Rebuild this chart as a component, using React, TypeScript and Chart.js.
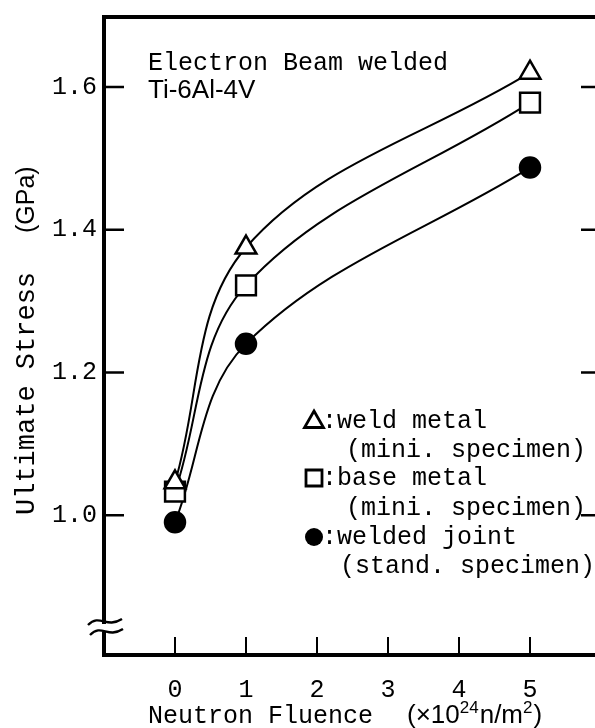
import React, { useEffect, useRef } from "react";
import { Chart, registerables } from "chart.js";

Chart.register(...registerables);

// ---- data ----
const fluence = [0, 1, 5];
const weldMetal = [1.046, 1.375, 1.62];
const baseMetal = [1.033, 1.322, 1.578];
const weldedJoint = [0.99, 1.24, 1.487];

const xTicks = [0, 1, 2, 3, 4, 5];
const xTickLabels = ["0", "1", "2", "3", "4", "5"];
const yTicks = [1.0, 1.2, 1.4, 1.6];
const yTickLabels = ["1.0", "1.2", "1.4", "1.6"];

const noteLine1 = "Electron Beam welded";
const noteLine2 = "Ti-6Al-4V";
const legendMain = [":weld metal", ":base metal", ":welded joint"];
const legendSub = ["(mini. specimen)", "(mini. specimen)", "(stand. specimen)"];
const legendShapes = ["triangle", "rect", "circle"];
const yTitleMain = "Ultimate Stress";
const yTitleUnit = "(GPa)";
const xTitleMain = "Neutron Fluence";
const xTitleUnitParts = ["(×10", "24", "n/m", "2", ")"];

const MONO = "'Liberation Mono', 'DejaVu Sans Mono', monospace";
const SANS = "'Liberation Sans', Arial, sans-serif";

function toPoints(ys: number[]) {
  return fluence.map((x, i) => ({ x, y: ys[i] }));
}

function drawMarker(ctx: CanvasRenderingContext2D, shape: string, x: number, y: number, r: number) {
  ctx.save();
  ctx.lineWidth = 2.8;
  ctx.strokeStyle = "#000";
  ctx.fillStyle = "#fff";
  ctx.beginPath();
  if (shape === "triangle") {
    ctx.moveTo(x, y - r);
    ctx.lineTo(x + r * 0.95, y + r * 0.65);
    ctx.lineTo(x - r * 0.95, y + r * 0.65);
    ctx.closePath();
    ctx.fill();
    ctx.stroke();
  } else if (shape === "rect") {
    ctx.rect(x - r * 0.8, y - r * 0.8, r * 1.6, r * 1.6);
    ctx.fill();
    ctx.stroke();
  } else {
    ctx.fillStyle = "#000";
    ctx.arc(x, y, r * 0.9, 0, Math.PI * 2);
    ctx.fill();
  }
  ctx.restore();
}

const decorPlugin = {
  id: "decor",
  afterDraw(chart: any) {
    const ctx: CanvasRenderingContext2D = chart.ctx;
    const { left, top, right, bottom } = chart.chartArea;
    const xs = chart.scales.x;
    const ys = chart.scales.y;
    ctx.save();
    ctx.strokeStyle = "#000";
    ctx.fillStyle = "#000";

    // frame
    ctx.lineWidth = 4;
    ctx.strokeRect(left, top, right - left, bottom - top);

    // inward ticks
    ctx.lineWidth = 2.5;
    yTicks.forEach((v) => {
      const py = ys.getPixelForValue(v);
      ctx.beginPath();
      ctx.moveTo(left, py);
      ctx.lineTo(left + 20, py);
      ctx.moveTo(right, py);
      ctx.lineTo(right - 20, py);
      ctx.stroke();
    });
    ctx.lineWidth = 2;
    xTicks.forEach((v) => {
      const px = xs.getPixelForValue(v);
      ctx.beginPath();
      ctx.moveTo(px, bottom);
      ctx.lineTo(px, bottom - 18);
      ctx.stroke();
    });

    // axis break
    ctx.fillStyle = "#fff";
    ctx.fillRect(left - 4, bottom - 31, 8, 8);
    ctx.lineWidth = 2.4;
    const wave = (x0: number, y0: number, x1: number, y1: number) => {
      ctx.beginPath();
      ctx.moveTo(x0, y0);
      ctx.bezierCurveTo(x0 + 12, y0 - 12, x1 - 16, y1 + 10, x1, y1);
      ctx.stroke();
    };
    wave(left - 16, bottom - 30, left + 18, bottom - 36);
    wave(left - 14, bottom - 20, left + 19, bottom - 26);

    // note text
    ctx.fillStyle = "#000";
    ctx.textBaseline = "middle";
    ctx.textAlign = "left";
    ctx.font = `25px ${MONO}`;
    ctx.fillText(noteLine1, 148, 63);
    ctx.font = `26px ${SANS}`;
    ctx.fillText(noteLine2, 148, 91);

    // legend
    const legY = [421, 478, 537];
    const subY = [450, 508, 566];
    legendMain.forEach((txt, i) => {
      drawMarker(ctx, legendShapes[i], 314, legY[i], 10);
      ctx.fillStyle = "#000";
      ctx.font = `25px ${MONO}`;
      ctx.fillText(txt, 322, legY[i]);
      ctx.fillText(legendSub[i], i === 2 ? 340 : 346, subY[i]);
    });

    // y title
    ctx.save();
    ctx.translate(27, 0);
    ctx.rotate(-Math.PI / 2);
    ctx.textBaseline = "middle";
    ctx.textAlign = "left";
    ctx.font = `27px ${MONO}`;
    ctx.fillText(yTitleMain, -515, 0);
    ctx.font = `25px ${SANS}`;
    ctx.fillText(yTitleUnit, -233, 0);
    ctx.restore();

    // x title
    ctx.textBaseline = "middle";
    ctx.font = `25px ${MONO}`;
    ctx.fillText(xTitleMain, 148, 716);
    let cx = 407;
    xTitleUnitParts.forEach((p, i) => {
      const sup = i === 1 || i === 3;
      ctx.font = sup ? `17px ${SANS}` : `26px ${SANS}`;
      ctx.fillText(p, cx, sup ? 708 : 716);
      cx += ctx.measureText(p).width + (sup ? 1 : 0);
    });

    ctx.restore();
  },
};

export default function App() {
  const ref = useRef<HTMLCanvasElement | null>(null);

  useEffect(() => {
    if (!ref.current) return;
    const mk = (label: string, ys: number[], style: string, fill: string, radius: number) => ({
      label,
      data: toPoints(ys),
      showLine: true,
      borderColor: "#000",
      borderWidth: 2,
      tension: 0.36,
      cubicInterpolationMode: "default" as const,
      pointStyle: style,
      pointRadius: radius,
      pointBorderWidth: 2.5,
      pointBorderColor: "#000",
      pointBackgroundColor: fill,
      fill: false,
    });
    const chart = new Chart(ref.current, {
      type: "scatter",
      data: {
        datasets: [
          mk("weld metal (mini. specimen)", weldMetal, "triangle", "#fff", 12),
          mk("base metal (mini. specimen)", baseMetal, "rect", "#fff", 14),
          mk("welded joint (stand. specimen)", weldedJoint, "circle", "#000", 10),
        ],
      },
      options: {
        responsive: false,
        animation: false,
        events: [],
        layout: { autoPadding: false, padding: { left: 0, top: 17, right: 1, bottom: 0 } },
        plugins: { legend: { display: false }, tooltip: { enabled: false } },
        scales: {
          x: {
            type: "linear",
            min: -1,
            max: 6,
            grid: { display: false, drawTicks: false },
            border: { display: false },
            afterBuildTicks: (s: any) => {
              s.ticks = xTicks.map((v) => ({ value: v }));
            },
            afterFit: (s: any) => {
              s.height = 73;
              s.paddingLeft = 0;
              s.paddingRight = 0;
            },
            ticks: {
              color: "#000",
              padding: 20,
              font: { family: MONO, size: 25 },
              maxRotation: 0,
              callback: (v: any) => xTickLabels[xTicks.indexOf(Number(v))] ?? "",
            },
          },
          y: {
            type: "linear",
            min: 0.804,
            max: 1.698,
            grid: { display: false, drawTicks: false },
            border: { display: false },
            afterBuildTicks: (s: any) => {
              s.ticks = yTicks.map((v) => ({ value: v }));
            },
            afterFit: (s: any) => {
              s.width = 104;
              s.paddingTop = 0;
              s.paddingBottom = 0;
            },
            ticks: {
              color: "#000",
              padding: 7,
              font: { family: MONO, size: 25 },
              callback: (v: any) => {
                const i = yTicks.findIndex((t) => Math.abs(t - Number(v)) < 1e-6);
                return i >= 0 ? yTickLabels[i] : "";
              },
            },
          },
        },
      },
      plugins: [decorPlugin],
    });
    return () => chart.destroy();
  }, []);

  return (
    <div style={{ position: "fixed", left: 0, top: 0, width: 595, height: 728, overflow: "hidden", background: "#fff" }}>
      <canvas ref={ref} width={602} height={728} style={{ display: "block" }} />
    </div>
  );
}
